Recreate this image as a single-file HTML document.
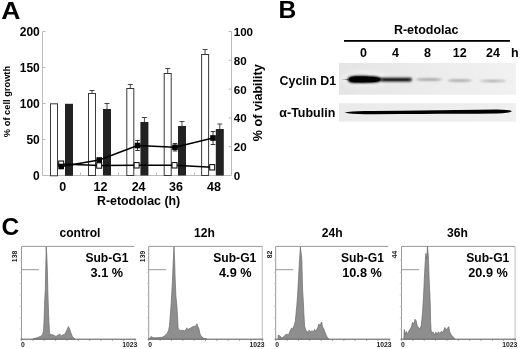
<!DOCTYPE html>
<html><head><meta charset="utf-8">
<style>
html,body{margin:0;padding:0;background:#fff;}
body{width:520px;height:349px;overflow:hidden;}
svg{display:block;}
text{font-family:"Liberation Sans",Arial,sans-serif;font-weight:bold;fill:#000;}
.s{font-weight:bold;font-size:6.8px;fill:#222;}
</style></head><body>
<svg width="520" height="349" viewBox="0 0 520 349">
<defs>
<filter id="b1" x="-20%" y="-100%" width="140%" height="300%"><feGaussianBlur stdDeviation="1.6 1.1"/></filter>
<filter id="b2" x="-20%" y="-100%" width="140%" height="300%"><feGaussianBlur stdDeviation="1.2 0.8"/></filter>
<filter id="b3" x="-20%" y="-300%" width="140%" height="700%"><feGaussianBlur stdDeviation="1.5 0.8"/></filter>
<filter id="b4" x="-30%" y="-100%" width="160%" height="300%"><feGaussianBlur stdDeviation="3 2.5"/></filter>
<filter id="b5" x="-10%" y="-100%" width="120%" height="300%"><feGaussianBlur stdDeviation="0.6 0.5"/></filter>
<linearGradient id="g1" x1="0" x2="1" y1="0" y2="0"><stop offset="0" stop-color="#e4e4e4"/><stop offset="0.5" stop-color="#ececec"/><stop offset="1" stop-color="#f1f1f1"/></linearGradient>
<linearGradient id="g2" x1="0" x2="1" y1="0" y2="0"><stop offset="0" stop-color="#eaeaea"/><stop offset="1" stop-color="#efefef"/></linearGradient>
</defs>
<rect width="520" height="349" fill="#fff"/>

<!-- Panel A -->
<text transform="translate(1.2,19) scale(1.08,1)" font-size="24.600">A</text>
<g id="axesA" stroke="#bbb" stroke-width="1" fill="none">
<path d="M42.5 31.5V175.5H231.5V31.5"/>
<path d="M42.5 31.5h3M42.5 67.5h3M42.5 103.5h3M42.5 139.5h3"/>
<path d="M231.5 31.5h-3M231.5 60.3h-3M231.5 89.1h-3M231.5 117.9h-3M231.5 146.7h-3"/>
<path d="M80.5 175.5v-3M118.5 175.5v-3M156.5 175.5v-3M194.5 175.5v-3"/>
</g>
<g font-size="12" text-anchor="end">
<text x="39.800" y="35.800">200</text><text x="39.800" y="71.800">150</text><text x="39.800" y="107.800">100</text><text x="39.800" y="143.800">50</text><text x="39.800" y="179.800">0</text>
</g>
<g font-size="11.600">
<text x="233.700" y="35.9">100</text><text x="233.700" y="64.7">80</text><text x="233.700" y="93.5">60</text><text x="233.700" y="122.3">40</text><text x="233.700" y="151.1">20</text><text x="233.700" y="179.9">0</text>
</g>
<text transform="translate(10.3,101.5) rotate(-90)" text-anchor="middle" font-size="9.3">% of cell growth</text>
<text transform="translate(261.6,102.7) rotate(-90)" text-anchor="middle" font-size="12.6">% of viability</text>
<g id="barsA">
<g fill="#fff" stroke="#3a3a3a" stroke-width="1">
<rect x="50.5" y="103.8" width="7" height="72"/>
<rect x="88.5" y="93.5" width="7" height="82"/>
<rect x="126.8" y="88.5" width="7" height="87"/>
<rect x="164.2" y="73.5" width="7" height="102"/>
<rect x="201.6" y="54.5" width="7" height="121"/>
</g>
<g fill="#222">
<rect x="65" y="103.8" width="8" height="72"/>
<rect x="103" y="109" width="8" height="66.5"/>
<rect x="140.4" y="122" width="8" height="53.5"/>
<rect x="178" y="126" width="8" height="49.5"/>
<rect x="215.8" y="129" width="8" height="46.5"/>
</g>
<g stroke="#333" stroke-width="0.9" fill="none">
<path d="M92 93.5V90.5M89.500 90.500h5"/>
<path d="M130.300 88.500V84.500M127.800 84.500h5"/>
<path d="M167.700 73.500V68.500M165.200 68.500h5"/>
<path d="M205.100 54.500V49.500M202.600 49.500h5"/>
<path d="M107 109V103.500M104.500 103.500h5"/>
<path d="M144.400 122V117.500M141.900 117.500h5"/>
<path d="M182 126V121.500M179.500 121.500h5"/>
<path d="M219.800 129V124M217.300 124h5"/>
</g>
</g>
<g id="linesA">
<polyline points="61.2,164 99.2,165.500 136.600,165.300 174.500,165.300 212.200,167.300" fill="none" stroke="#000" stroke-width="1.600"/>
<polyline points="61.200,166.500 99.200,160 137.500,145.500 175,147.300 213,138" fill="none" stroke="#000" stroke-width="1.600"/>
<g stroke="#222" stroke-width="0.900" fill="none">
<path d="M137.500 140.500v10M135.200 140.500h4.600M135.200 150.500h4.600"/>
<path d="M175 143.500v7.500M172.700 143.500h4.600M172.700 151h4.600"/>
<path d="M213 131.500v13M210.700 131.500h4.600M210.700 144.500h4.600"/>
</g>
<g fill="#fff" stroke="#000" stroke-width="1">
<rect x="58.700" y="161" width="5" height="5.400"/>
<rect x="96.700" y="162.800" width="5" height="5.400"/>
<rect x="134.100" y="162.600" width="5" height="5.400"/>
<rect x="172" y="162.600" width="5" height="5.400"/>
<rect x="209.700" y="164.600" width="5" height="5.400"/>
</g>
<g fill="#000">
<rect x="58.400" y="163.700" width="5.600" height="5.600"/>
<rect x="96.400" y="157.200" width="5.600" height="5.600"/>
<rect x="134.700" y="142.700" width="5.600" height="5.600"/>
<rect x="172.200" y="144.500" width="5.600" height="5.600"/>
<rect x="210.200" y="135.200" width="5.600" height="5.600"/>
</g>
</g>
<g font-size="12.500" text-anchor="middle">
<text x="62.800" y="191.200">0</text><text x="100.500" y="191.200">12</text><text x="138.600" y="191.200">24</text><text x="176" y="191.200">36</text><text x="214" y="191.200">48</text>
<text x="138.600" y="204.700" font-size="12.400">R-etodolac (h)</text>
</g>

<!-- Panel B -->
<text x="278.600" y="18" font-size="24.600">B</text>
<text x="426.200" y="34.300" font-size="12.500" text-anchor="middle">R-etodolac</text>
<rect x="344" y="40" width="166" height="1.800" fill="#000"/>
<g font-size="12.500" text-anchor="middle">
<text x="363.600" y="56.700">0</text><text x="395.600" y="56.700">4</text><text x="427.600" y="56.700">8</text><text x="459.800" y="56.700">12</text><text x="492.900" y="56.700">24</text><text x="514.800" y="56.700">h</text>
</g>
<text x="279.600" y="84.700" font-size="12.400">Cyclin D1</text>
<text x="279.300" y="116.700" font-size="12.400" textLength="56" lengthAdjust="spacingAndGlyphs">α-Tubulin</text>
<g id="blot1">
<rect x="339" y="63" width="177" height="31.700" fill="url(#g1)"/>
<ellipse cx="364" cy="79" rx="24" ry="8" fill="#f8f8f8" opacity="0.55" filter="url(#b4)"/>
<path d="M341 79.600 L348 79.300 L348 80 Z" fill="#555" filter="url(#b5)"/>
<path d="M347.500 79.400 C347.800 77.300 351 76 356 75.800 C362 75.600 371 75.900 376 76.400 C379.500 76.800 381.500 77.800 382.300 79.300 C381.500 81.200 379 82.200 375 82.600 C369 83.100 360 83.200 354 82.900 C350 82.600 347.600 81.600 347.500 79.400Z" fill="#000" filter="url(#b2)"/>
<path d="M349 79.400 C349.300 77.600 352 76.700 356 76.500 C362 76.300 371 76.600 375 77 C378 77.400 380 78.200 380.500 79.300 C380 80.800 378 81.600 375 82 C369 82.400 360 82.500 355 82.300 C351 82 349.100 81 349 79.400Z" fill="#000" filter="url(#b5)"/>
<rect x="380.500" y="77.700" width="31.500" height="3.800" rx="1.900" fill="#1c1c1c" filter="url(#b2)"/>
<rect x="384" y="78.700" width="24" height="1.800" rx="0.900" fill="#1a1a1a" opacity="0.7" filter="url(#b5)"/>
<ellipse cx="429" cy="79.500" rx="13" ry="1" fill="#8c8c8c" filter="url(#b3)"/>
<ellipse cx="459.500" cy="80.500" rx="12" ry="1" fill="#949494" filter="url(#b3)"/>
<ellipse cx="493" cy="80.900" rx="13" ry="1" fill="#a0a0a0" filter="url(#b3)"/>
</g>
<g id="blot2">
<rect x="339" y="103.200" width="177" height="18.500" fill="url(#g2)"/>
<path d="M344.500 112.600 Q350 111.200 365 111 T400 110.700 T440 110.200 T497 109.500 Q509 109.500 512 111.200 Q509 113.300 497 113.400 T440 113.800 T400 114.100 T365 114.300 Q350 114.200 344.500 112.600Z" fill="#000" filter="url(#b5)"/>
</g>

<!-- Panel C -->
<text x="1.500" y="234.500" font-size="24.500">C</text>
<g font-size="12.100" text-anchor="middle">
<text x="80" y="237">control</text><text x="204.500" y="237">12h</text><text x="332.200" y="237">24h</text><text x="457.500" y="237">36h</text>
</g>
<g font-size="12.100" text-anchor="middle">
<text x="106.900" y="262.300">Sub-G1</text><text x="106.800" y="277" font-size="12.700">3.1 %</text>
<text x="234.800" y="262.300">Sub-G1</text><text x="235.300" y="277" font-size="12.700">4.9 %</text>
<text x="362.500" y="262.300">Sub-G1</text><text x="362" y="277" font-size="12.700">10.8 %</text>
<text x="487.800" y="262.300">Sub-G1</text><text x="488" y="277" font-size="12.700">20.9 %</text>
</g>
<g id="panelC">
<g>
<path d="M21.5 339.2V246.4H134.1" fill="none" stroke="#999" stroke-width="1"/>
<path d="M20.5 339.2H136.1" fill="none" stroke="#555" stroke-width="1"/>
<path d="M21.5 339.2v1.6M32.9 339.2v1.6M44.2 339.2v1.6M55.6 339.2v1.6M66.9 339.2v1.6M78.3 339.2v1.6M89.7 339.2v1.6M101.0 339.2v1.6M112.4 339.2v1.6M123.7 339.2v1.6M135.1 339.2v1.6" fill="none" stroke="#777" stroke-width="0.8"/>
<path d="M21.5 260.3h-1.8M21.5 272.3h-1.8M21.5 283.5h-1.8M21.5 295h-1.8M21.5 306.5h-1.8M21.5 318h-1.8M21.5 329h-1.8" fill="none" stroke="#c4c4c4" stroke-width="0.8"/>
<path d="M21.5 269.7h17.6" fill="none" stroke="#999" stroke-width="1"/>
<path d="M33.0 339 L36.9 337.8 L40.1 336.5 L42.5 335 L43.5 331 L44.0 321.5 L44.8 298 L45.3 290 L45.8 265 L46.2 246.8 L46.8 255 L47.4 271.5 L47.8 290 L48.3 305.8 L48.9 321.5 L49.5 332.6 L50.3 335 L52.0 334.6 L54.3 335.4 L55.9 336.5 L58.2 335 L59.8 334.2 L61.4 335.7 L63.0 334.8 L64.5 334.5 L66.1 331.8 L67.2 329.4 L68.5 326.6 L69.7 329.4 L70.8 332.6 L72.4 336.5 L74.8 339Z" fill="#8e8e8e" stroke="#6a6a6a" stroke-width="0.7" stroke-linejoin="round"/>
<text class="s" transform="translate(17.3,250.8) rotate(-90)" text-anchor="end">138</text>
<text class="s" x="23.0" y="346.8" text-anchor="middle">0</text>
<text class="s" x="137.4" y="346.8" text-anchor="end">1023</text>
</g>
<g>
<path d="M148.7 339.2V246.4H262.3" fill="none" stroke="#999" stroke-width="1"/>
<path d="M262.3 246.4V339.2" fill="none" stroke="#bdbdbd" stroke-width="1"/>
<path d="M147.7 339.2H263.3" fill="none" stroke="#555" stroke-width="1"/>
<path d="M148.7 339.2v1.6M160.1 339.2v1.6M171.4 339.2v1.6M182.8 339.2v1.6M194.1 339.2v1.6M205.5 339.2v1.6M216.9 339.2v1.6M228.2 339.2v1.6M239.6 339.2v1.6M250.9 339.2v1.6M262.3 339.2v1.6" fill="none" stroke="#777" stroke-width="0.8"/>
<path d="M148.7 260.3h-1.8M148.7 272.3h-1.8M148.7 283.5h-1.8M148.7 295h-1.8M148.7 306.5h-1.8M148.7 318h-1.8M148.7 329h-1.8" fill="none" stroke="#c4c4c4" stroke-width="0.8"/>
<path d="M148.7 269.7h17.6" fill="none" stroke="#999" stroke-width="1"/>
<path d="M149.5 339 L149.7 338.1 L151.0 336.5 L152.9 337.6 L155.7 337.8 L158.7 337.5 L162.3 337.3 L164.7 335.7 L167.1 333.4 L168.6 330.2 L169.4 326.3 L169.8 321.5 L171.0 306 L171.7 295 L172.5 280 L173.3 260 L174.0 246.6 L174.6 260 L175.2 280 L175.8 295 L176.9 306 L177.8 321.5 L178.1 327.9 L178.9 329.7 L180.7 330.6 L182.8 330.2 L184.3 330.8 L186.0 329.7 L186.8 327.9 L187.6 329.4 L189.2 328.8 L190.7 327.9 L193.1 326.6 L194.7 326.3 L196.3 325.6 L197.0 323.9 L197.8 326.6 L198.9 328.6 L199.9 333.4 L201.0 336 L203.4 338.1 L205.7 338.8 L206.7 339Z" fill="#8e8e8e" stroke="#6a6a6a" stroke-width="0.7" stroke-linejoin="round"/>
<text class="s" transform="translate(144.5,250.8) rotate(-90)" text-anchor="end">139</text>
<text class="s" x="150.2" y="346.8" text-anchor="middle">0</text>
<text class="s" x="264.6" y="346.8" text-anchor="end">1023</text>
</g>
<g>
<path d="M275.7 339.2V246.4H388.3" fill="none" stroke="#999" stroke-width="1"/>
<path d="M274.7 339.2H390.3" fill="none" stroke="#555" stroke-width="1"/>
<path d="M275.7 339.2v1.6M287.1 339.2v1.6M298.4 339.2v1.6M309.8 339.2v1.6M321.1 339.2v1.6M332.5 339.2v1.6M343.9 339.2v1.6M355.2 339.2v1.6M366.6 339.2v1.6M377.9 339.2v1.6M389.3 339.2v1.6" fill="none" stroke="#777" stroke-width="0.8"/>
<path d="M275.7 260.3h-1.8M275.7 272.3h-1.8M275.7 283.5h-1.8M275.7 295h-1.8M275.7 306.5h-1.8M275.7 318h-1.8M275.7 329h-1.8" fill="none" stroke="#c4c4c4" stroke-width="0.8"/>
<path d="M275.7 269.7h17.6" fill="none" stroke="#999" stroke-width="1"/>
<path d="M278.0 339 L278.3 335 L279.9 336 L282.2 338.1 L284.6 335.7 L285.7 334.6 L287.0 334.2 L288.6 335 L289.7 331.8 L290.9 329.4 L291.7 327.9 L292.5 329.4 L294.1 325.5 L295.3 321.5 L296.0 313.7 L296.8 305.8 L297.6 295 L298.0 288 L298.7 275 L299.4 262 L299.9 255 L300.4 247 L301.0 252 L301.6 257 L301.9 262 L302.2 275 L302.6 290 L303.1 297.9 L303.9 313.7 L304.6 326.3 L305.9 330.2 L307.5 332.3 L309.1 330.2 L310.6 331.8 L312.2 330.7 L313.3 332.3 L314.6 329.4 L315.8 331.3 L317.7 327.9 L318.8 323.9 L319.8 326 L320.6 323.9 L321.7 322 L322.5 327 L323.7 328.6 L324.8 331.8 L326.4 335.7 L327.5 338.1 L328.8 339Z" fill="#8e8e8e" stroke="#6a6a6a" stroke-width="0.7" stroke-linejoin="round"/>
<text class="s" transform="translate(271.5,250.8) rotate(-90)" text-anchor="end">82</text>
<text class="s" x="277.2" y="346.8" text-anchor="middle">0</text>
<text class="s" x="391.6" y="346.8" text-anchor="end">1023</text>
</g>
<g>
<path d="M401.5 339.2V246.4H515.1" fill="none" stroke="#999" stroke-width="1"/>
<path d="M515.1 246.4V339.2" fill="none" stroke="#bdbdbd" stroke-width="1"/>
<path d="M400.5 339.2H516.1" fill="none" stroke="#555" stroke-width="1"/>
<path d="M401.5 339.2v1.6M412.9 339.2v1.6M424.2 339.2v1.6M435.6 339.2v1.6M446.9 339.2v1.6M458.3 339.2v1.6M469.7 339.2v1.6M481.0 339.2v1.6M492.4 339.2v1.6M503.7 339.2v1.6M515.1 339.2v1.6" fill="none" stroke="#777" stroke-width="0.8"/>
<path d="M401.5 260.3h-1.8M401.5 272.3h-1.8M401.5 283.5h-1.8M401.5 295h-1.8M401.5 306.5h-1.8M401.5 318h-1.8M401.5 329h-1.8" fill="none" stroke="#c4c4c4" stroke-width="0.8"/>
<path d="M401.5 269.7h17.6" fill="none" stroke="#999" stroke-width="1"/>
<path d="M403.8 339 L404.3 329.4 L405.1 335 L406.2 331.3 L407.1 334.2 L408.2 332.3 L409.8 329.4 L411.4 327 L412.5 322.3 L413.8 323.9 L415.0 319.2 L416.1 320.8 L417.2 325.5 L418.5 327.9 L420.1 328.6 L421.2 325.5 L422.0 318.4 L422.8 308.9 L423.6 295 L424.3 279.4 L425.1 263.7 L425.9 253.4 L426.7 259 L427.5 246.5 L428.3 255.8 L428.8 268.4 L429.2 281 L429.9 295 L430.3 305.8 L430.6 321.5 L431.1 330.2 L431.9 333.4 L433.0 331.8 L434.3 335 L435.9 332.3 L437.1 334.5 L438.4 331.8 L439.8 333.4 L441.4 331.3 L442.9 332.6 L444.9 327.5 L446.1 330.2 L447.2 328.6 L448.8 326.6 L449.7 331.8 L451.3 335 L453.2 337 L454.8 339Z" fill="#8e8e8e" stroke="#6a6a6a" stroke-width="0.7" stroke-linejoin="round"/>
<text class="s" transform="translate(397.3,250.8) rotate(-90)" text-anchor="end">44</text>
<text class="s" x="403.0" y="346.8" text-anchor="middle">0</text>
<text class="s" x="517.4" y="346.8" text-anchor="end">1023</text>
</g>
</g>
</svg>
</body></html>
